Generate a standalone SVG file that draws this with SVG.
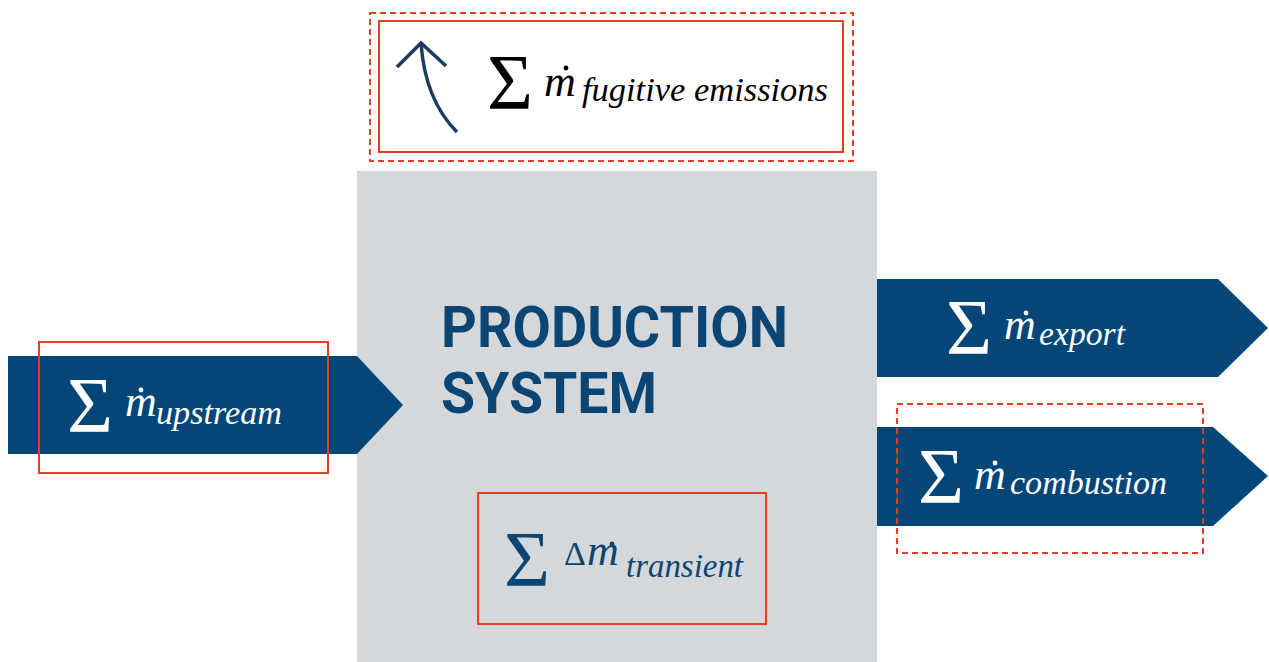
<svg xmlns="http://www.w3.org/2000/svg" width="1269" height="662" viewBox="0 0 1269 662">
<style>
.arrow{fill:#034677}
.red{fill:none;stroke:#e3401f;stroke-width:2}
.dash{fill:none;stroke:#e3401f;stroke-width:2;stroke-dasharray:6 4}
svg text.s{font-family:'Liberation Serif',serif !important}
</style>
<rect width="1269" height="662" fill="#ffffff"/>
<g id="production-system">
<rect x="357" y="171" width="520" height="491" fill="#d4d8da"/>
<text x="441" y="347" font-family="Roboto" font-weight="700" font-size="58" fill="#0b4574" textLength="347" lengthAdjust="spacingAndGlyphs">PRODUCTION</text>
<text x="441" y="413" font-family="Roboto" font-weight="700" font-size="58" fill="#0b4574" textLength="216" lengthAdjust="spacingAndGlyphs">SYSTEM</text>
</g>
<g id="connectors">
<path d="M457,132 Q425,100 421,43" fill="none" stroke="#1d3c5e" stroke-width="3.5"/>
<path d="M397,67 L421,43 L446,66" fill="none" stroke="#1d3c5e" stroke-width="3.5"/>
</g>
<g id="upstream">
<polygon class="arrow" points="8,356 357,356 403,405 357,454 8,454"/>
<rect class="red" x="39" y="342" width="289" height="131"/>
<text class="s" style="font-family:'Liberation Serif',serif !important" x="67" y="431" font-size="79" fill="#ffffff">Σ</text>
<text class="s" style="font-family:'Liberation Serif',serif !important" x="125" y="416" font-size="44" font-style="italic" fill="#ffffff">m</text>
<circle cx="141" cy="390" r="2.4" fill="#ffffff"/>
<text class="s" style="font-family:'Liberation Serif',serif !important" x="156" y="424" font-size="34" font-style="italic" fill="#ffffff" textLength="126" lengthAdjust="spacingAndGlyphs">upstream</text>
</g>
<g id="fugitive">
<rect class="dash" x="370" y="13" width="483" height="148"/>
<rect class="red" x="379" y="21" width="464" height="131"/>
<text class="s" style="font-family:'Liberation Serif',serif !important" x="487" y="108" font-size="79" fill="#000000">Σ</text>
<text class="s" style="font-family:'Liberation Serif',serif !important" x="544" y="96" font-size="44" font-style="italic" fill="#000000">m</text>
<circle cx="566" cy="68" r="2.4" fill="#000000"/>
<text class="s" style="font-family:'Liberation Serif',serif !important" x="582" y="101" font-size="34" font-style="italic" fill="#000000" textLength="246" lengthAdjust="spacingAndGlyphs">fugitive emissions</text>
</g>
<g id="export">
<polygon class="arrow" points="877,279 1218,279 1268,328 1218,377 877,377"/>
<text class="s" style="font-family:'Liberation Serif',serif !important" x="946" y="353" font-size="79" fill="#ffffff">Σ</text>
<text class="s" style="font-family:'Liberation Serif',serif !important" x="1004" y="339" font-size="44" font-style="italic" fill="#ffffff">m</text>
<circle cx="1026" cy="313" r="2.4" fill="#ffffff"/>
<text class="s" style="font-family:'Liberation Serif',serif !important" x="1039" y="345" font-size="34" font-style="italic" fill="#ffffff" textLength="86" lengthAdjust="spacingAndGlyphs">export</text>
</g>
<g id="combustion">
<polygon class="arrow" points="877,427 1213,427 1268,476 1213,526 877,526"/>
<rect class="dash" x="897" y="404" width="306" height="149"/>
<text class="s" style="font-family:'Liberation Serif',serif !important" x="918" y="502" font-size="79" fill="#ffffff">Σ</text>
<text class="s" style="font-family:'Liberation Serif',serif !important" x="974" y="489" font-size="44" font-style="italic" fill="#ffffff">m</text>
<circle cx="995" cy="463" r="2.4" fill="#ffffff"/>
<text class="s" style="font-family:'Liberation Serif',serif !important" x="1010" y="494" font-size="34" font-style="italic" fill="#ffffff" textLength="157" lengthAdjust="spacingAndGlyphs">combustion</text>
</g>
<g id="transient">
<rect class="red" x="478" y="493" width="288" height="131"/>
<text class="s" style="font-family:'Liberation Serif',serif !important" x="504" y="585" font-size="79" fill="#0b4574">Σ</text>
<text class="s" style="font-family:'Liberation Serif',serif !important" x="564" y="565" font-size="34" fill="#0b4574">Δ</text>
<text class="s" style="font-family:'Liberation Serif',serif !important" x="587" y="565" font-size="44" font-style="italic" fill="#0b4574">m</text>
<circle cx="612" cy="544" r="2.4" fill="#0b4574"/>
<text class="s" style="font-family:'Liberation Serif',serif !important" x="626" y="577" font-size="34" font-style="italic" fill="#0b4574" textLength="117" lengthAdjust="spacingAndGlyphs">transient</text>
</g>
</svg>
